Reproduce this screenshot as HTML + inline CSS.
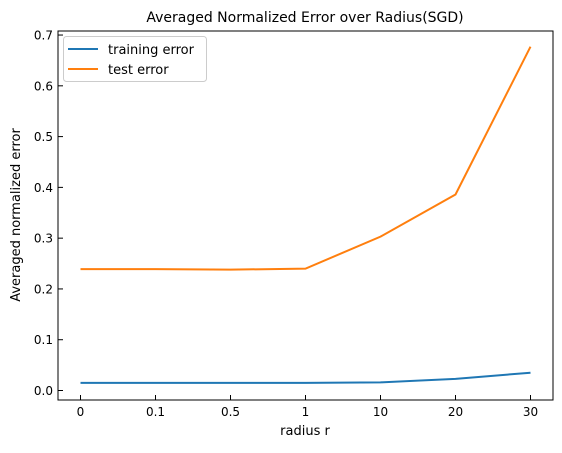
<!DOCTYPE html>
<html><head><meta charset="utf-8"><style>
body{margin:0;background:#fff;}
svg text{font-family:"DejaVu Sans","Liberation Sans",sans-serif;fill:#000;}
</style></head><body>
<svg id="chart" width="562" height="448">
<rect x="0" y="0" width="562" height="448" fill="#fff"/>
<text x="305" y="22" font-size="14" text-anchor="middle">Averaged Normalized Error over Radius(SGD)</text>
<g id="axes"></g>
<g id="series"></g>
<rect x="58" y="31" width="495" height="369" fill="none" stroke="#000" stroke-width="1"/>
<g>
<rect x="63.5" y="36.5" width="143" height="45" rx="3" fill="#fff" stroke="#ccc"/>
<line x1="68" y1="49" x2="98" y2="49" stroke="#1f77b4" stroke-width="2"/>
<text x="108" y="54" font-size="13">training error</text>
<line x1="68" y1="69" x2="98" y2="69" stroke="#ff7f0e" stroke-width="2"/>
<text x="108" y="74" font-size="13">test error</text>
</g>
<text x="305" y="435" font-size="13" text-anchor="middle">radius r</text>
<text x="20" y="215" font-size="13" text-anchor="middle" transform="rotate(-90 20 215)">Averaged normalized error</text>
</svg>
<script>
const categories=["0","0.1","0.5","1","10","20","30"];
const trainingError=[0.015,0.015,0.015,0.015,0.016,0.023,0.035];
const testError=[0.239,0.239,0.238,0.240,0.303,0.386,0.677];
const yTicks=[0,0.1,0.2,0.3,0.4,0.5,0.6,0.7];
const NS="http://www.w3.org/2000/svg";
function xs(i){return 80.5+i*75;}
function ys(v){return 390.5-v*507.8;}
const axes=document.getElementById('axes');
function mk(tag,attrs,parent){const e=document.createElementNS(NS,tag);for(const k in attrs)e.setAttribute(k,attrs[k]);parent.appendChild(e);return e;}
categories.forEach((c,i)=>{
  const t=mk('line',{x1:xs(i),x2:xs(i),y1:400,y2:395,stroke:'#000'},axes);
  
  
  const l=mk('text',{x:xs(i),y:416,'font-size':12,'text-anchor':'middle'},axes);
  l.textContent=c;
  
  
});
yTicks.forEach(v=>{
  const t=mk('line',{x1:58,x2:63,y1:ys(v),y2:ys(v),stroke:'#000'},axes);
  
  
  const l=mk('text',{x:53,y:ys(v)+4.5,'font-size':12,'text-anchor':'end'},axes);
  l.textContent=v.toFixed(1);
  
  
});
const series=document.getElementById('series');
function line(vals,color,name){
  const p=mk('polyline',{points:vals.map((v,i)=>xs(i)+','+ys(v)).join(' '),fill:'none',stroke:color,'stroke-width':2},series);
  
  
}
line(trainingError,'#1f77b4','training-error-line');
line(testError,'#ff7f0e','test-error-line');
</script>
</body></html>
